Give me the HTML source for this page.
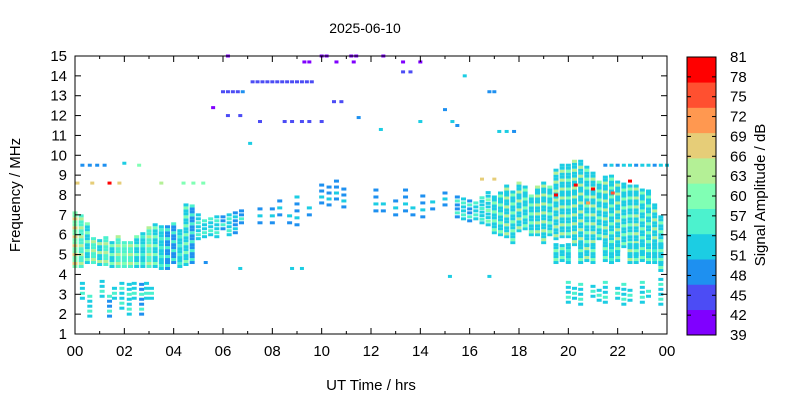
<!DOCTYPE html>
<html><head><meta charset="utf-8"><style>
body{margin:0;background:#fff;}
svg text{font-family:"Liberation Sans",Arial,sans-serif;fill:#000;}
</style></head><body>
<svg id="c" width="800" height="400" viewBox="0 0 800 400" xmlns="http://www.w3.org/2000/svg">
<rect width="800" height="400" fill="#fff"/>
<text x="365" y="33" font-size="14" text-anchor="middle">2025-06-10</text>
<text x="371" y="390" font-size="15" text-anchor="middle">UT Time / hrs</text>
<text transform="translate(20,195) rotate(-90)" font-size="15" text-anchor="middle">Frequency / MHz</text>
<text transform="translate(765,195) rotate(-90)" font-size="15" text-anchor="middle">Signal Amplitude / dB</text>
<g id="marks"></g>
<g id="axes"></g>
<g id="cbar"></g>
</svg>
<script>
// ---- data ----
const xTickLabels=["00","02","04","06","08","10","12","14","16","18","20","22","00"];
const yTickLabels=[1,2,3,4,5,6,7,8,9,10,11,12,13,14,15];
const cbarLabels=[39,42,45,48,51,54,57,60,63,66,69,72,75,78,81];
const bandColors=["#8000ff","#4c4cf5","#1e90f0","#1ccde3","#4cf2ce","#80ffb4","#b4f096","#e6cd78","#ff9850","#ff5030","#ff0000"];
// vertical segments of cells: time (h), freq low/high (MHz), two amplitudes (dB), cell spacing (MHz)
const segT=[0,0.25,0.5,0.75,1,1.25,1.5,1.75,2,2.25,2.5,2.75,3,3.25,3.5,3.75,4,4.25,4.5,4.75,5,5.25,5.5,5.75,6,6.25,6.5,6.75,
 0.3,0.6,1.1,1.4,1.6,1.9,2.2,2.4,2.7,2.9,3.1,
 7.5,8,8.3,8.7,9,9.5,10,10.3,10.6,10.9,
 12.2,12.5,13,13.4,13.7,14.1,14.5,15,
 15.5,15.75,16,16.25,16.5,16.75,17,17.25,17.5,17.75,
 18,18.25,18.5,18.75,19,19.25,19.5,19.75,20,20.25,
 20.5,20.75,21,21.25,21.5,21.75,22,22.25,22.5,22.75,
 23,23.25,23.5,23.75,
 19.5,19.75,20,20.5,20.75,21,21.5,21.75,22,22.5,22.75,23,23.5,23.75,
 20,20.25,20.5,21,21.25,21.5,22,22.25,22.5,23,23.25,23.75];
const segF0=[4.4,4.4,4.6,4.6,4.5,4.5,4.4,4.4,4.4,4.4,4.4,4.4,4.4,4.4,4.3,4.3,4.6,4.4,4.5,4.6,5.8,5.9,6.0,5.9,6.3,6.0,6.1,6.6,
 2.8,1.9,2.9,1.9,2.8,2.3,2.0,2.8,2.0,2.8,2.8,
 6.6,6.6,7.0,6.6,6.5,7.0,7.6,7.5,7.8,7.4,
 7.2,7.2,7.0,7.2,7.0,6.9,7.3,7.5,
 6.9,6.8,6.7,6.8,6.6,6.5,6.1,6.0,5.9,5.6,
 6.2,6.3,6.0,6.0,5.6,6.0,5.8,5.9,5.9,5.5,
 5.2,5.5,5.5,5.8,5.3,5.5,5.2,5.4,5.0,5.0,
 4.8,4.6,4.8,4.2,
 4.6,4.7,4.6,4.6,4.7,4.6,4.7,4.6,4.7,4.6,4.6,4.7,4.6,4.6,
 2.6,2.8,2.5,2.9,2.7,2.6,2.8,2.5,2.7,2.6,2.9,2.5];
const segF1=[7.2,7.0,6.6,5.9,5.8,5.9,5.7,5.9,5.7,5.7,5.9,6.1,6.4,6.6,6.5,6.4,6.6,6.3,7.5,7.5,7.0,6.8,6.8,6.9,7.0,7.0,7.1,7.2,
 3.7,3.0,3.7,3.0,3.4,3.7,3.7,3.7,3.7,3.7,3.5,
 7.3,7.6,8.0,7.2,8.0,7.5,8.6,8.4,8.7,8.3,
 8.3,7.8,8.0,8.5,7.6,8.2,7.9,8.2,
 8.0,7.8,7.8,7.7,7.9,8.2,8.0,8.2,8.5,8.2,
 8.6,8.5,8.0,8.5,8.7,8.5,9.3,9.5,9.6,9.8,
 9.8,9.5,9.2,8.7,9.0,9.0,8.7,8.6,8.5,8.5,
 8.3,8.2,7.5,7.0,
 5.6,5.5,5.6,5.6,5.5,5.6,5.5,5.6,5.5,5.6,5.6,5.5,5.6,5.6,
 3.7,3.4,3.6,3.5,3.3,3.6,3.4,3.7,3.3,3.6,3.2,3.8];
const segDbA=[60,57,54,57,54,57,54,57,55,57,52,54,57,52,52,50,50,51,52,50,52,52,53,52,50,52,50,50,
 52,52,51,50,52,52,51,52,50,52,51,
 49,48,49,48,49,48,49,48,48,49,
 48,48,49,48,48,49,48,49,
 50,51,50,52,51,52,52,51,53,52,
 52,53,52,51,53,52,52,51,52,53,
 52,51,52,53,52,51,52,53,52,51,
 52,53,52,51,
 52,53,51,52,53,52,51,52,53,52,51,52,53,52,
 52,51,52,53,52,51,52,53,52,51,52,53];
const segDbB=[66,63,61,63,62,64,61,63,61,63,61,58,63,60,58,55,55,57,60,55,58,57,58,58,55,58,54,55,
 58,56,57,55,58,56,57,55,58,56,57,
 52,51,52,51,52,51,52,51,52,51,
 52,51,52,51,52,51,52,54,
 55,56,55,57,58,60,61,59,62,60,
 62,61,60,62,63,61,62,63,61,62,
 63,60,62,61,63,60,62,61,59,62,
 61,60,62,59,
 59,61,58,60,62,59,61,58,60,62,59,61,58,60,
 57,55,58,56,57,55,58,56,57,55,58,56];
const segStep=[0.15,0.15,0.15,0.15,0.15,0.15,0.15,0.15,0.15,0.15,0.15,0.15,0.15,0.15,0.15,0.15,0.15,0.15,0.15,0.15,0.2,0.2,0.2,0.2,0.2,0.2,0.2,0.2,
 0.25,0.25,0.25,0.25,0.25,0.25,0.25,0.25,0.25,0.25,0.25,
 0.35,0.35,0.35,0.35,0.35,0.35,0.3,0.3,0.3,0.3,
 0.35,0.35,0.35,0.35,0.35,0.35,0.35,0.3,
 0.2,0.2,0.2,0.2,0.18,0.18,0.15,0.15,0.15,0.15,
 0.15,0.15,0.15,0.15,0.15,0.15,0.15,0.15,0.15,0.15,
 0.15,0.15,0.15,0.15,0.15,0.15,0.15,0.15,0.15,0.15,
 0.15,0.15,0.15,0.15,
 0.15,0.15,0.15,0.15,0.15,0.15,0.15,0.15,0.15,0.15,0.15,0.15,0.15,0.15,
 0.25,0.25,0.25,0.25,0.25,0.25,0.25,0.25,0.25,0.25,0.25,0.25];
// isolated points: time (h), freq (MHz), amplitude (dB)
const ptT=[7.2,7.4,7.6,7.8,8.0,8.2,8.4,8.6,8.8,9.0,9.2,9.4,9.6,6.0,6.2,6.4,6.6,6.8,7.5,8.5,8.8,9.2,9.5,10.0,
 0.3,0.6,0.9,1.2,21.5,21.75,22.0,22.25,22.5,22.75,23.0,23.25,23.5,23.75,24.0,
 6.2,10.0,10.2,11.2,11.4,12.5,9.3,9.5,10.6,11.3,13.3,14.0,5.6,6.2,6.7,10.5,10.8,13.3,13.6,16.8,17.0,15.5,17.2,17.5,17.8,14.0,15.3,15.8,15.0,11.5,12.4,7.1,
 0.1,0.7,1.4,1.8,3.5,4.4,4.8,5.2,2.0,2.6,19.5,20.3,21.0,21.8,22.5,20.8,17.0,16.5,6.7,8.8,9.2,5.3,15.2,16.8];
const ptF=[13.7,13.7,13.7,13.7,13.7,13.7,13.7,13.7,13.7,13.7,13.7,13.7,13.7,13.2,13.2,13.2,13.2,13.2,11.7,11.7,11.7,11.7,11.7,11.7,
 9.5,9.5,9.5,9.5,9.5,9.5,9.5,9.5,9.5,9.5,9.5,9.5,9.5,9.5,9.5,
 15,15,15,15,15,15,14.7,14.7,14.7,14.7,14.7,14.7,12.4,12.0,12.0,12.7,12.7,14.2,14.2,13.2,13.2,11.5,11.2,11.2,11.2,11.7,11.7,14.0,12.3,11.9,11.3,10.6,
 8.6,8.6,8.6,8.6,8.6,8.6,8.6,8.6,9.6,9.5,8.0,8.5,8.3,8.1,8.7,7.6,8.8,8.8,4.3,4.3,4.3,4.6,3.9,3.9];
const ptDb=[44,46,44,45,44,46,44,45,44,46,44,45,46,44,45,44,44,50,45,45,46,45,45,46,
 48,47,47,47,50,51,50,52,51,50,52,51,50,51,52,
 40,40,41,40,41,40,41,40,41,40,41,40,41,46,45,46,45,46,45,48,48,50,51,52,50,51,52,53,50,48,51,52,
 66,66,80,66,62,60,61,60,51,60,80,80,80,76,80,72,66,67,52,52,52,48,52,52];
// ---- drawing ----
const X0=75,X1=667,Y0=334,Y1=56;
const xs=t=>X0+t/24*(X1-X0);
const ys=f=>Y0-(f-1)/14*(Y0-Y1);
const col=db=>bandColors[Math.max(0,Math.min(10,Math.floor(((db===undefined?52:db)-39)/42*11)))];
const NS="http://www.w3.org/2000/svg";
function mk(tag,attrs,parent){const e=document.createElementNS(NS,tag);for(const k in attrs)e.setAttribute(k,attrs[k]);parent.appendChild(e);return e;}
const marks=document.getElementById('marks');
for(let i=0;i<segT.length;i++){
  let k=0;
  const step=segStep[i]||0.15;
  for(let f=segF0[i];f<=segF1[i]+1e-6;f+=step,k++){
    const r=mk('rect',{x:xs(segT[i])-2.5,y:ys(f)-1.5,width:5,height:3,fill:col(k%3==1?segDbB[i]:segDbA[i])},marks);
    
    
  }
}
for(let i=0;i<ptT.length;i++){
  const r=mk('rect',{x:xs(ptT[i])-2,y:ys(ptF[i])-1.5,width:4,height:3,fill:col(ptDb[i])},marks);
  
  
}
const ax=document.getElementById('axes');
mk('rect',{x:X0,y:Y1,width:X1-X0,height:Y0-Y1,fill:'none',stroke:'#000','stroke-width':1},ax);
for(let h=0;h<=24;h++){
  const x=xs(h),len=(h%2==0)?6:3;
  mk('line',{x1:x,y1:Y0,x2:x,y2:Y0-len,stroke:'#000'},ax);
  mk('line',{x1:x,y1:Y1,x2:x,y2:Y1+len,stroke:'#000'},ax);
}
xTickLabels.forEach((l,i)=>{const t=mk('text',{x:xs(i*2),y:Y0+22,'font-size':15,'text-anchor':'middle'},ax);t.textContent=l;
 
 });
yTickLabels.forEach(v=>{const y=ys(v);
 mk('line',{x1:X0,y1:y,x2:X0+6,y2:y,stroke:'#000'},ax);
 mk('line',{x1:X1,y1:y,x2:X1-6,y2:y,stroke:'#000'},ax);
 const t=mk('text',{x:X0-8,y:y+5,'font-size':15,'text-anchor':'end'},ax);t.textContent=v;
 
 });
const cb=document.getElementById('cbar');
const CX=687,CW=29,CT=57,CB=335;
bandColors.forEach((c,i)=>{const h=(CB-CT)/11;
 const r=mk('rect',{x:CX,y:CB-(i+1)*h,width:CW,height:h+0.3,fill:c},cb);
 
 });
mk('rect',{x:CX,y:CT,width:CW,height:CB-CT,fill:'none',stroke:'#000'},cb);
cbarLabels.forEach((v,i)=>{const y=CB-(v-39)/42*(CB-CT);
 mk('line',{x1:CX,y1:y,x2:CX+4,y2:y,stroke:'#000'},cb);
 mk('line',{x1:CX+CW,y1:y,x2:CX+CW-4,y2:y,stroke:'#000'},cb);
 const t=mk('text',{x:730,y:y+5,'font-size':15},cb);t.textContent=v;
 
 });
</script>
</body></html>
